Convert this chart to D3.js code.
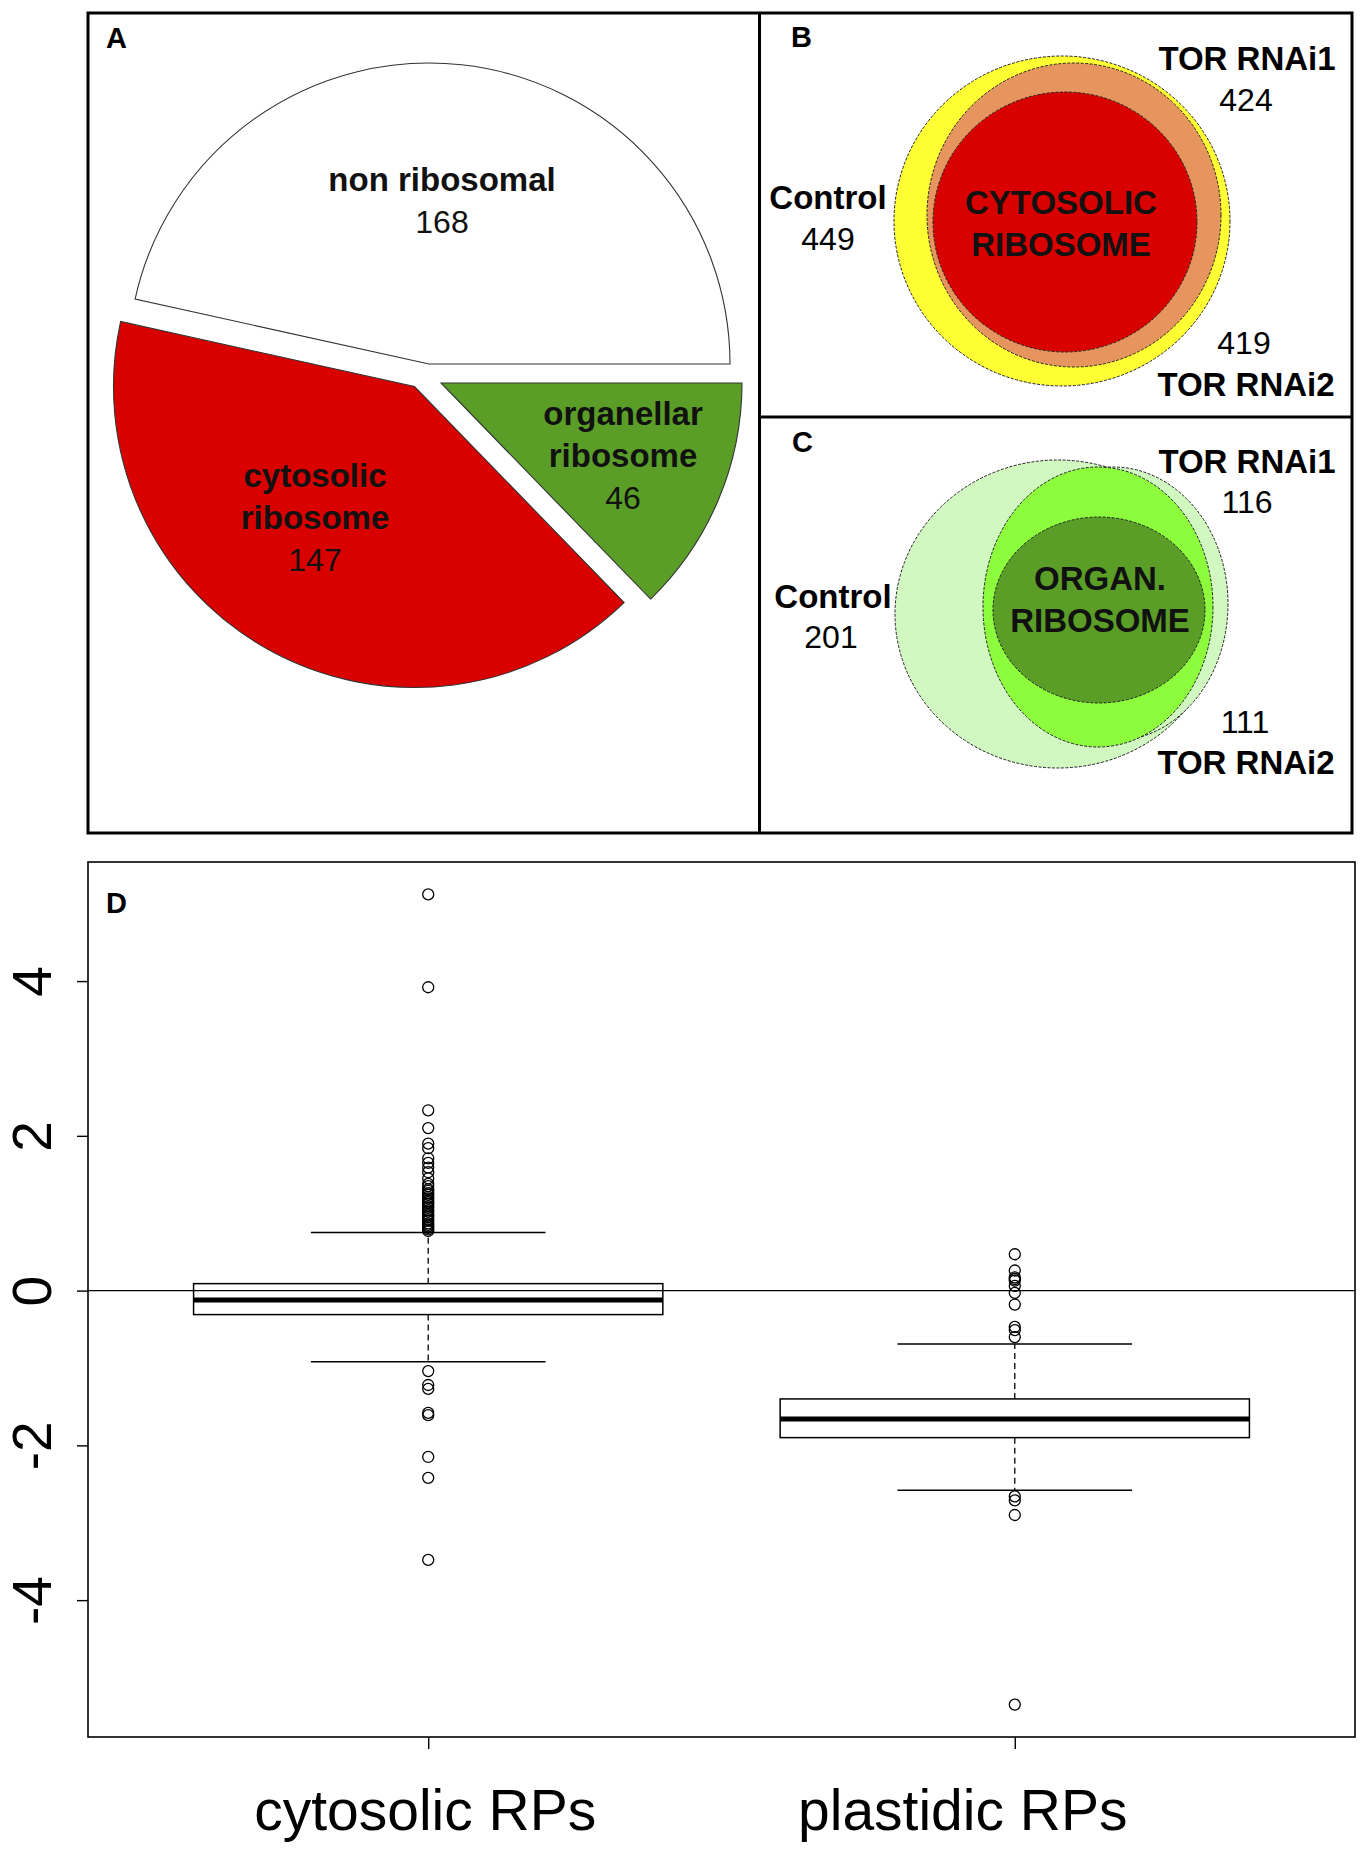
<!DOCTYPE html>
<html>
<head>
<meta charset="utf-8">
<script src="https://cdn.jsdelivr.net/npm/d3@7"></script>
<style>
  body { margin: 0; background: #fff; }
  svg { display: block; font-family: "Liberation Sans", Arial, Helvetica, sans-serif; }
</style>
</head>
<body>
<svg id="fig" width="1362" height="1857"></svg>
<script>
// ---- panel A: pie of the proteins found
var pieLines = [["non ribosomal"], ["cytosolic", "ribosome"], ["organellar", "ribosome"]];
var pieCounts = [168, 147, 46];

// ---- panels B and C: overlap of the three lines (control, RNAi1, RNAi2)
var vennNames = ["Control", "TOR RNAi1", "TOR RNAi2"];
var vennCytosolic = [449, 424, 419];
var vennOrganellar = [201, 116, 111];
var vennCytosolicTitle = ["CYTOSOLIC", "RIBOSOME"];
var vennOrganellarTitle = ["ORGAN.", "RIBOSOME"];

// ---- panel D: boxplots
var boxNames = ["cytosolic RPs", "plastidic RPs"];
var boxLowWhisker = [-0.92, -2.58];
var boxQ1 = [-0.31, -1.90];
var boxMedian = [-0.12, -1.66];
var boxQ3 = [0.09, -1.40];
var boxHighWhisker = [0.75, -0.69];
var cytosolicOutliers = [5.12, 3.92, 2.33, 2.10, 1.90, 1.84, 1.71, 1.65, 1.59, 1.53, 1.45, 1.38,
  1.35, 1.31, 1.29, 1.26, 1.24, 1.21, 1.19, 1.16, 1.14, 1.12, 1.09, 1.07, 1.04, 1.02, 0.99,
  0.97, 0.95, 0.92, 0.90, 0.87, 0.85, 0.83, 0.81, 0.79, 0.77,
  -1.04, -1.22, -1.27, -1.58, -1.61, -2.15, -2.42, -3.48];
var plastidicOutliers = [0.47, 0.26, 0.17, 0.15, 0.13, 0.06, -0.03, -0.18, -0.47, -0.51, -0.60,
  -2.66, -2.71, -2.90, -5.35];
var yTicks = [-4, -2, 0, 2, 4];

var svg = d3.select("#fig");
svg.append("rect").attr("width", 1362).attr("height", 1857).attr("fill", "#fff");

// ================= frame around A, B, C
var frame = svg.append("g").attr("fill", "none").attr("stroke", "#000").attr("stroke-width", 3);
frame.append("rect").attr("x", 88).attr("y", 13).attr("width", 1264).attr("height", 820);
frame.append("line").attr("x1", 759.5).attr("x2", 759.5).attr("y1", 13).attr("y2", 833);
frame.append("line").attr("x1", 759.5).attr("x2", 1352).attr("y1", 417).attr("y2", 417);

function panelLetter(txt, x, y) {
  svg.append("text").attr("x", x).attr("y", y)
    .attr("font-size", 29).attr("font-weight", "bold").text(txt);
}
panelLetter("A", 106, 48);
panelLetter("B", 791, 47);
panelLetter("C", 792, 452);

// ================= A: exploded pie
var pieCenter = [429, 364];
var pieRadius = 301;
var pieColors = ["#ffffff", "#d90000", "#5a9e28"];
var pieShift = [[0, 0], [-14.5, 22.5], [12, 19]]; // how far each slice is pulled out
var pieLabelAt = [[442, 191], [315, 487], [623, 425]];

// R style: start at 3 o'clock, run counter-clockwise
var pie = d3.pie().sort(null).startAngle(Math.PI / 2).endAngle(Math.PI / 2 - 2 * Math.PI);
var arc = d3.arc().innerRadius(0).outerRadius(pieRadius);

var gPie = svg.append("g").attr("transform", "translate(" + pieCenter[0] + "," + pieCenter[1] + ")");
gPie.selectAll("path")
  .data(pie(pieCounts))
  .enter()
  .append("path")
  .attr("transform", function(d, i) { return "translate(" + pieShift[i][0] + "," + pieShift[i][1] + ")"; })
  .attr("d", arc)
  .attr("fill", function(d, i) { return pieColors[i]; })
  .attr("stroke", "#333")
  .attr("stroke-width", 1.1);

pieCounts.forEach(function(n, i) {
  var t = svg.append("text").attr("text-anchor", "middle").attr("fill", "#111");
  var lines = pieLines[i];
  lines.forEach(function(s, j) {
    t.append("tspan").attr("x", pieLabelAt[i][0]).attr("y", pieLabelAt[i][1] + j * 42)
      .attr("font-size", 33).attr("font-weight", "bold").text(s);
  });
  t.append("tspan").attr("x", pieLabelAt[i][0]).attr("y", pieLabelAt[i][1] + lines.length * 42)
    .attr("font-size", 32).text(n);
});

// ================= B and C: Venn style overlap
function drawVenn(shapes, names, counts, title, pos) {
  var g = svg.append("g");
  g.selectAll("ellipse")
    .data(shapes)
    .enter()
    .append("ellipse")
    .attr("cx", function(d) { return d.cx; })
    .attr("cy", function(d) { return d.cy; })
    .attr("rx", function(d) { return d.rx; })
    .attr("ry", function(d) { return d.ry; })
    .attr("fill", function(d) { return d.fill; })
    .attr("stroke", "#222")
    .attr("stroke-width", 1)
    .attr("stroke-dasharray", "3,1.5");

  names.forEach(function(nm, i) {
    var p = pos.labels[i];
    g.append("text").attr("x", p[0]).attr("y", p[1]).attr("text-anchor", "middle")
      .attr("font-size", 33).attr("font-weight", "bold").text(nm);
    g.append("text").attr("x", p[2]).attr("y", p[3]).attr("text-anchor", "middle")
      .attr("font-size", 32).text(counts[i]);
  });
  title.forEach(function(s, j) {
    g.append("text").attr("x", pos.title[0]).attr("y", pos.title[1] + j * 42)
      .attr("text-anchor", "middle").attr("font-size", 33).attr("font-weight", "bold")
      .attr("fill", "#111").text(s);
  });
}

drawVenn(
  [
    { cx: 1062, cy: 221, rx: 168, ry: 165, fill: "#ffff33" },
    { cx: 1074, cy: 215, rx: 147, ry: 152, fill: "#e6955e" },
    { cx: 1065, cy: 222, rx: 132, ry: 130, fill: "#d90000" }
  ],
  vennNames, vennCytosolic, vennCytosolicTitle,
  { labels: [[828, 209, 828, 250], [1247, 70, 1246, 111], [1246, 396, 1244, 354]], title: [1061, 214] }
);

drawVenn(
  [
    { cx: 1058, cy: 614, rx: 163, ry: 154, fill: "#d2f8c1" },
    { cx: 1113, cy: 604, rx: 115, ry: 137, fill: "#d2f8c1" },
    { cx: 1098, cy: 607, rx: 115, ry: 140, fill: "#8cfc3c" },
    { cx: 1099, cy: 610, rx: 106, ry: 93, fill: "#5a9e28" }
  ],
  vennNames, vennOrganellar, vennOrganellarTitle,
  { labels: [[833, 608, 831, 648], [1247, 473, 1247, 513], [1246, 774, 1245, 733]], title: [1100, 590] }
);

// ================= D: boxplot
var plot = { left: 88, right: 1355, top: 862, bottom: 1737 };
var allValues = cytosolicOutliers.concat(plastidicOutliers, boxLowWhisker, boxHighWhisker);
var lo = d3.min(allValues), hi = d3.max(allValues);
var pad = (hi - lo) * 0.04;

var y = d3.scaleLinear().domain([lo - pad, hi + pad]).range([plot.bottom, plot.top]);
var x = d3.scaleLinear().domain([0.42, 2.58]).range([plot.left, plot.right]);
var boxHalf = 0.4, capHalf = 0.2;

var gD = svg.append("g");

gD.append("rect")
  .attr("x", plot.left).attr("y", plot.top)
  .attr("width", plot.right - plot.left).attr("height", plot.bottom - plot.top)
  .attr("fill", "none").attr("stroke", "#000").attr("stroke-width", 1.6);

var yAxis = gD.append("g")
  .attr("transform", "translate(" + plot.left + ",0)")
  .call(d3.axisLeft(y).tickValues(yTicks).tickSize(11).tickFormat(function(d) { return String(d); }));
yAxis.select(".domain").remove();
yAxis.selectAll("line").attr("stroke", "#000").attr("stroke-width", 1.4);
yAxis.selectAll("text")
  .attr("x", null).attr("dy", null)
  .attr("text-anchor", "middle")
  .attr("transform", "translate(-37.5,0) rotate(-90)")
  .attr("font-size", 55)
  .attr("font-family", "Liberation Sans, Arial, sans-serif")
  .attr("fill", "#000");

var xAxis = gD.append("g")
  .attr("transform", "translate(0," + plot.bottom + ")")
  .call(d3.axisBottom(x).tickValues([1, 2]).tickSize(12).tickFormat(""));
xAxis.select(".domain").remove();
xAxis.selectAll("line").attr("stroke", "#000").attr("stroke-width", 1.4);

var labelShift = [-3, -52];
gD.selectAll(".xlab")
  .data(boxNames)
  .enter()
  .append("text")
  .attr("class", "xlab")
  .attr("x", function(d, i) { return x(i + 1) + labelShift[i]; })
  .attr("y", 1830)
  .attr("text-anchor", "middle")
  .attr("font-size", 57)
  .text(function(d) { return d; });

var boxes = gD.selectAll(".bx")
  .data(boxNames)
  .enter()
  .append("g")
  .attr("class", "bx");

// dashed whiskers
boxes.append("line")
  .attr("x1", function(d, i) { return x(i + 1); })
  .attr("x2", function(d, i) { return x(i + 1); })
  .attr("y1", function(d, i) { return y(boxQ3[i]); })
  .attr("y2", function(d, i) { return y(boxHighWhisker[i]); })
  .attr("stroke", "#000").attr("stroke-width", 1.3).attr("stroke-dasharray", "6,4");
boxes.append("line")
  .attr("x1", function(d, i) { return x(i + 1); })
  .attr("x2", function(d, i) { return x(i + 1); })
  .attr("y1", function(d, i) { return y(boxQ1[i]); })
  .attr("y2", function(d, i) { return y(boxLowWhisker[i]); })
  .attr("stroke", "#000").attr("stroke-width", 1.3).attr("stroke-dasharray", "6,4");

// caps
[boxHighWhisker, boxLowWhisker].forEach(function(arr) {
  boxes.append("line")
    .attr("x1", function(d, i) { return x(i + 1 - capHalf); })
    .attr("x2", function(d, i) { return x(i + 1 + capHalf); })
    .attr("y1", function(d, i) { return y(arr[i]); })
    .attr("y2", function(d, i) { return y(arr[i]); })
    .attr("stroke", "#000").attr("stroke-width", 1.4);
});

boxes.append("rect")
  .attr("x", function(d, i) { return x(i + 1 - boxHalf); })
  .attr("width", function(d, i) { return x(i + 1 + boxHalf) - x(i + 1 - boxHalf); })
  .attr("y", function(d, i) { return y(boxQ3[i]); })
  .attr("height", function(d, i) { return y(boxQ1[i]) - y(boxQ3[i]); })
  .attr("fill", "none").attr("stroke", "#000").attr("stroke-width", 1.5);

boxes.append("line")
  .attr("x1", function(d, i) { return x(i + 1 - boxHalf); })
  .attr("x2", function(d, i) { return x(i + 1 + boxHalf); })
  .attr("y1", function(d, i) { return y(boxMedian[i]); })
  .attr("y2", function(d, i) { return y(boxMedian[i]); })
  .attr("stroke", "#000").attr("stroke-width", 5);

// outliers
[cytosolicOutliers, plastidicOutliers].forEach(function(arr, k) {
  gD.append("g").selectAll("circle")
    .data(arr)
    .enter()
    .append("circle")
    .attr("cx", x(k + 1))
    .attr("cy", function(d) { return y(d); })
    .attr("r", 5.5)
    .attr("fill", "none")
    .attr("stroke", "#000")
    .attr("stroke-width", 1.3);
});

// reference line at zero
gD.append("line")
  .attr("x1", plot.left).attr("x2", plot.right)
  .attr("y1", y(0)).attr("y2", y(0))
  .attr("stroke", "#000").attr("stroke-width", 1.3);

gD.append("text").attr("x", 106).attr("y", 913)
  .attr("font-size", 29).attr("font-weight", "bold").text("D");
</script>
</body>
</html>
